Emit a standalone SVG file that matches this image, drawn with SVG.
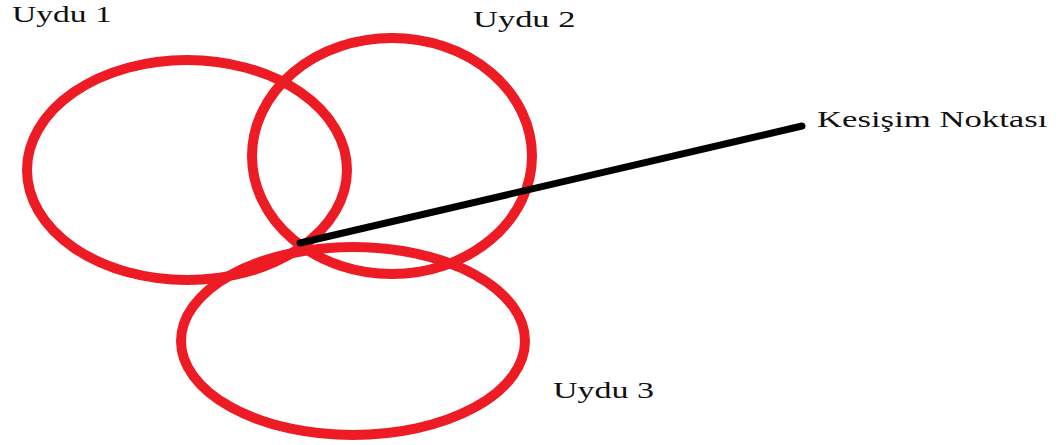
<svg xmlns="http://www.w3.org/2000/svg" width="1062" height="445" viewBox="0 0 1062 445">
  <style>
    .orbit { fill: none; stroke: #ED1C24; stroke-width: 10; }
    .label { font-family: "Liberation Serif", "Times New Roman", serif; font-size: 23px; fill: #111111; }
    .pointer { stroke: #000000; stroke-width: 7; stroke-linecap: round; fill: none; }
  </style>
  <rect width="1062" height="445" fill="#ffffff"/>

  <!-- satellite coverage ranges; labels are widened horizontally -->
  <g id="uydu1">
    <ellipse class="orbit" cx="187" cy="170" rx="160" ry="110"/>
    <text class="label" transform="translate(12 22) scale(1.46 1)">Uydu 1</text>
  </g>
  <g id="uydu2">
    <ellipse class="orbit" cx="392" cy="156" rx="140" ry="118"/>
    <text class="label" transform="translate(473 27) scale(1.5 1)">Uydu 2</text>
  </g>
  <g id="uydu3">
    <ellipse class="orbit" cx="353" cy="341" rx="172" ry="94"/>
    <text class="label" transform="translate(553 398) scale(1.48 1)">Uydu 3</text>
  </g>

  <!-- intersection label -->
  <g id="kesisim">
    <text class="label" transform="translate(817 127) scale(1.51 1)">Kesişim Noktası</text>
  </g>

  <g id="connectors">
    <line class="pointer" x1="300" y1="243" x2="802" y2="126"/>
  </g>
</svg>
